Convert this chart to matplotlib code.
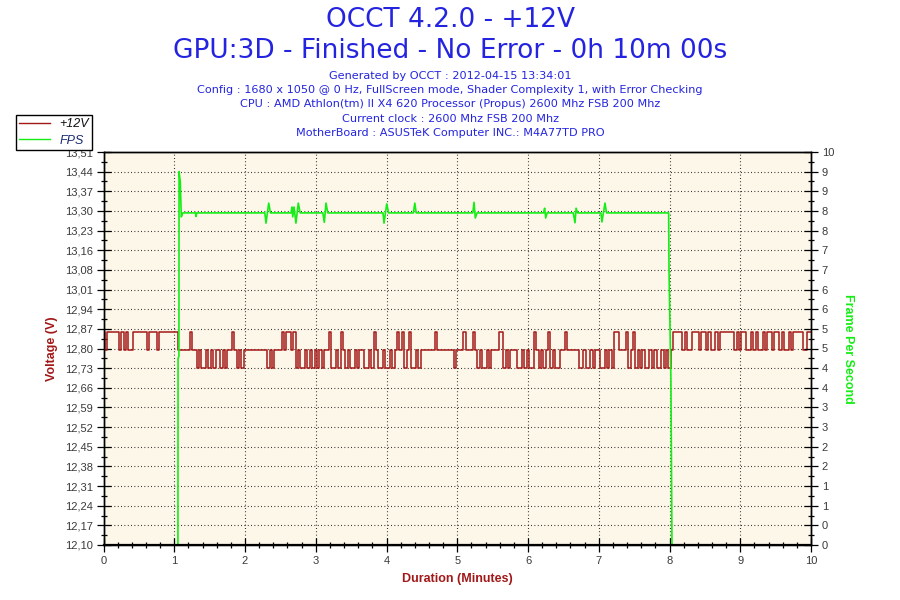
import numpy as np
import matplotlib
matplotlib.use("Agg")
import matplotlib.pyplot as plt
from matplotlib.ticker import FixedLocator, MultipleLocator
from matplotlib.lines import Line2D

plt.rcParams['font.family'] = ['Liberation Sans', 'DejaVu Sans']

# ---------------- data ----------------
TITLE1 = "OCCT 4.2.0 - +12V"
TITLE2 = "GPU:3D - Finished - No Error - 0h 10m 00s"
INFO_LINES = [
    "Generated by OCCT : 2012-04-15 13:34:01",
    "Config : 1680 x 1050 @ 0 Hz, FullScreen mode, Shader Complexity 1, with Error Checking",
    "CPU : AMD Athlon(tm) II X4 620 Processor (Propus) 2600 Mhz FSB 200 Mhz",
    "Current clock : 2600 Mhz FSB 200 Mhz",
    "MotherBoard : ASUSTeK Computer INC.: M4A77TD PRO",
]

# voltage samples every 2 s, coded by level
VOLT_LEVELS = {'H': 12.864, 'M': 12.800, 'L': 12.736}
VOLT_IDLE = "HMHHHHHMHMHMMHHHHHHMHHHMHHHHHHHH"
VOLT_LOAD = ("MMMMM" "H" "MM" "LMLLML" "MLMM" "LML" "MM" "HM" "LML" "MMMMMMMMMM"
             "LMLM" "MM" "HM" "HHMH" "LMLLMLML" "MLMLM" "M" "HL" "LML" "H" "M"
             "LMLLMLMMLLML" "HM" "LL" "MLLMLM" "HMH" "LM" "H" "LLMLM" "MMMMM" "H"
             "MMMMMMM" "L" "MMM" "H" "MMM" "H" "M" "LMLLML" "MMM" "HH" "LML" "MMM"
             "LL" "M" "LMLL" "H" "MLMLM" "H" "LMLLM" "M" "H" "MMMM" "ML"
             "LMLLMLMMLLMLML" "HHMMMH" "LMHLM" "LMLLMLMLLMLM" "LM")
VOLT_POST = ("HHHH" "MHMMH" "HH" "M" "HH" "MHMMHMH" "HHHHH" "M" "H" "M" "HH" "MM"
             "H" "MHMM" "H" "M" "HH" "M" "HH" "MHMMHM" "HHHH" "MM" "HH")
SAMPLE_SECONDS = 2

fps_minutes = [0, 1.052, 1.054, 1.066, 1.068, 1.085, 1.10, 1.12,
               1.30, 1.307, 1.32,
               2.28, 2.297, 2.335, 2.36,
               2.65, 2.664, 2.675, 2.693, 2.72, 2.753, 2.78,
               3.10, 3.121, 3.145, 3.17,
               3.95, 3.965, 4.003, 4.03,
               4.38, 4.40, 4.42,
               5.22, 5.237, 5.255, 5.28,
               6.22, 6.235, 6.25, 6.27,
               6.64, 6.664, 6.68, 6.70,
               7.03, 7.045, 7.088, 7.11,
               7.988, 7.993, 8.02, 8.03, 8.035, 10]
fps_values = [0, 0, 4.75, 4.8, 9.5, 9.25, 8.35, 8.45,
              8.45, 8.36, 8.45,
              8.45, 8.19, 8.70, 8.45,
              8.45, 8.60, 8.35, 8.60, 8.19, 8.70, 8.45,
              8.45, 8.21, 8.70, 8.45,
              8.45, 8.19, 8.68, 8.45,
              8.45, 8.70, 8.45,
              8.45, 8.72, 8.32, 8.45,
              8.45, 8.57, 8.32, 8.45,
              8.45, 8.20, 8.57, 8.45,
              8.45, 8.22, 8.70, 8.45,
              8.45, 7.0, 4.2, 1.45, 0, 0]

VOLT_TICKS_LABELS = ["12,10", "12,17", "12,24", "12,31", "12,38", "12,45", "12,52",
                     "12,59", "12,66", "12,73", "12,80", "12,87", "12,94", "13,01",
                     "13,08", "13,16", "13,23", "13,30", "13,37", "13,44", "13,51"]
FPS_TICK_LABELS = ["0", "0", "1", "1", "2", "2", "3", "3", "4", "4", "5",
                   "5", "6", "6", "7", "7", "8", "8", "9", "9", "10"]
X_TICK_LABELS = [str(i) for i in range(11)]

# ---------------- build ----------------
codes = VOLT_IDLE + VOLT_LOAD + VOLT_POST
volt = np.array([VOLT_LEVELS[c] for c in codes])
volt_t = np.arange(len(codes)) * SAMPLE_SECONDS / 60.0

RED = '#A21818'
GREEN = '#14EE14'
BLUE = '#2424E0'
TICKC = '#3a3a3a'
TITLE_FONT = ['DejaVu Sans']

fig = plt.figure(figsize=(9, 6), dpi=100)
ax = fig.add_axes([103.5/900, 1-545/600, (811-103.5)/900, (545-152)/600])
ax.set_facecolor('#FDF7EA')

vmin, vmax = 12.10, 13.51
ax.set_xlim(0, 10)
ax.set_ylim(vmin, vmax)
ax.plot(volt_t, volt, color=RED, lw=1.1, drawstyle='steps-mid', zorder=3)

vt = np.linspace(vmin, vmax, len(VOLT_TICKS_LABELS))
ax.yaxis.set_major_locator(FixedLocator(vt))
ax.set_yticklabels(VOLT_TICKS_LABELS)
step = vt[1] - vt[0]
ax.yaxis.set_minor_locator(FixedLocator(vt[:-1] + step/2))
ax.xaxis.set_major_locator(FixedLocator(range(11)))
ax.set_xticklabels(X_TICK_LABELS)
ax.xaxis.set_minor_locator(MultipleLocator(0.2))

dot = (0, (0.7, 2.3))
ax.grid(True, which='major', color='black', lw=0.8, linestyle=dot, zorder=1)

ax.tick_params(which='major', direction='inout', length=9.5, width=0.9,
               labelsize=8, labelcolor=TICKC, pad=3)
ax.tick_params(which='minor', direction='inout', length=5, width=0.9)
ax.tick_params(axis='x', which='both', top=False)
for s in ax.spines.values():
    s.set_linewidth(1.0)

ax2 = ax.twinx()
ax2.set_ylim(0, 10)
ax2.plot(fps_minutes, fps_values, color=GREEN, lw=1.2, zorder=2)
ft = np.linspace(0, 10, len(FPS_TICK_LABELS))
ax2.yaxis.set_major_locator(FixedLocator(ft))
ax2.set_yticklabels(FPS_TICK_LABELS)
ax2.yaxis.set_minor_locator(FixedLocator(ft[:-1] + 0.25))
ax2.tick_params(which='major', direction='inout', length=9.5, width=0.9,
                labelsize=8, labelcolor=TICKC, pad=3)
ax2.tick_params(which='minor', direction='inout', length=5, width=0.9)
for s in ax2.spines.values():
    s.set_linewidth(1.0)
    s.set_zorder(5)
ax2.spines['bottom'].set_linewidth(1.6)

ax.set_ylabel("Voltage (V)", color=RED, fontsize=9, fontweight='bold')
ax.yaxis.set_label_coords((58-103.5)/707.5, 0.5)
ax2.set_ylabel("Frame Per Second", color=GREEN, fontsize=9, fontweight='bold',
               rotation=270, va='center')
ax2.yaxis.set_label_coords((848-103.5)/707.5, 0.5)
ax.set_xlabel("Duration (Minutes)", color=RED, fontsize=9, fontweight='bold')
ax.xaxis.set_label_coords(0.5, (545-573)/393)

fig.text(0.5, 1-20/600, TITLE1, ha='center', va='center', fontsize=19,
         color=BLUE, family=TITLE_FONT)
fig.text(0.5, 1-51/600, TITLE2, ha='center', va='center', fontsize=19,
         color=BLUE, family=TITLE_FONT)
for k, line in enumerate(INFO_LINES):
    fig.text(0.5, 1-(76+14.2*k)/600, line, ha='center', va='center',
             fontsize=8.1, color=BLUE, family=TITLE_FONT)

handles = [Line2D([], [], color=RED, lw=1.0), Line2D([], [], color=GREEN, lw=1.0)]
leg = fig.legend(handles, ["+12V", "FPS"], loc='upper left',
                 bbox_to_anchor=(15.5/900, 1-115/600), borderaxespad=0,
                 fancybox=False, edgecolor='black', framealpha=1, facecolor='white',
                 prop={'style': 'italic', 'size': 9}, handlelength=2.5,
                 handletextpad=0.75, borderpad=0.25, labelspacing=0.35)
leg.get_frame().set_linewidth(1.0)
leg.texts[0].set_color('#111111')
leg.texts[1].set_color('#1a2a70')

fig.savefig("out.png", dpi=100)
